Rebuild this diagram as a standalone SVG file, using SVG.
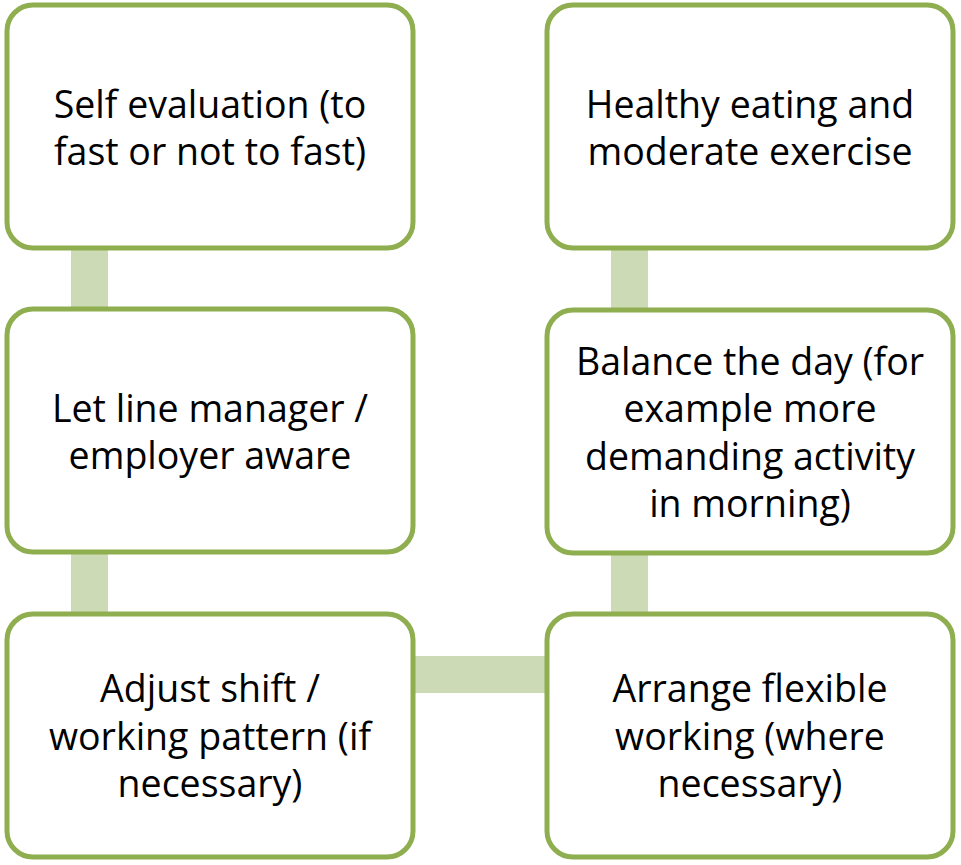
<svg xmlns="http://www.w3.org/2000/svg" width="961" height="865" viewBox="0 0 961 865">
  <style>
    .box { fill: #ffffff; stroke: #8eae50; stroke-width: 5; }
    .link { fill: #ccdab5; }
    .label { font-family: "Open Sans", "Noto Sans", sans-serif; font-size: 37.5px; fill: #000000; text-anchor: middle; }
  </style>
  <rect width="961" height="865" fill="#ffffff"/>
  <g id="connectors">
    <rect class="link" x="71" y="248" width="37" height="62"/>
    <rect class="link" x="71" y="552" width="37" height="62"/>
    <rect class="link" x="413" y="656" width="134" height="37"/>
    <rect class="link" x="611" y="553" width="37" height="61"/>
    <rect class="link" x="611" y="248" width="37" height="62"/>
  </g>
  <g id="self-evaluation">
    <rect class="box" x="7" y="5" width="406" height="243" rx="26"/>
    <text class="label" x="210" y="118">Self evaluation (to</text>
    <text class="label" x="210" y="165">fast or not to fast)</text>
  </g>
  <g id="line-manager">
    <rect class="box" x="7" y="309" width="406" height="243" rx="26"/>
    <text class="label" x="210" y="422">Let line manager /</text>
    <text class="label" x="210" y="469">employer aware</text>
  </g>
  <g id="adjust-shift">
    <rect class="box" x="7" y="614" width="406" height="243" rx="26"/>
    <text class="label" x="210" y="702">Adjust shift /</text>
    <text class="label" x="210" y="750">working pattern (if</text>
    <text class="label" x="210" y="797">necessary)</text>
  </g>
  <g id="flexible-working">
    <rect class="box" x="547" y="614" width="406" height="243" rx="26"/>
    <text class="label" x="750" y="702">Arrange flexible</text>
    <text class="label" x="750" y="750">working (where</text>
    <text class="label" x="750" y="797">necessary)</text>
  </g>
  <g id="balance-day">
    <rect class="box" x="547" y="310" width="406" height="243" rx="26"/>
    <text class="label" x="750" y="375">Balance the day (for</text>
    <text class="label" x="750" y="422">example more</text>
    <text class="label" x="750" y="470">demanding activity</text>
    <text class="label" x="750" y="517">in morning)</text>
  </g>
  <g id="healthy-eating">
    <rect class="box" x="547" y="5" width="406" height="243" rx="26"/>
    <text class="label" x="750" y="118">Healthy eating and</text>
    <text class="label" x="750" y="165">moderate exercise</text>
  </g>
</svg>
